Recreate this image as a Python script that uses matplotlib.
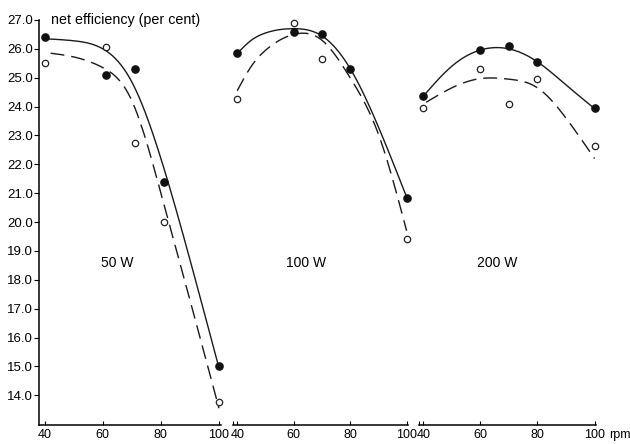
import numpy as np
import matplotlib.pyplot as plt

plt.rcParams['font.family'] = ['Liberation Sans', 'DejaVu Sans']

# efficiency at 50, 100 and 200 W: filled dots = solid curve, open dots = dashed curve
loads = ["50 W", "100 W", "200 W"]

rpm_filled = [[40, 61, 71, 81, 100],
              [40, 60, 70, 80, 100],
              [40, 60, 70, 80, 100]]
eff_filled = [[26.4, 25.1, 25.3, 21.4, 15.0],
              [25.85, 26.6, 26.5, 25.3, 20.85],
              [24.35, 25.95, 26.1, 25.55, 23.95]]

rpm_open = [[40, 61, 71, 81, 100],
            [40, 60, 70, 100],
            [40, 60, 70, 80, 100]]
eff_open = [[25.5, 26.05, 22.75, 20.0, 13.75],
            [24.25, 26.9, 25.65, 19.4],
            [23.95, 25.3, 24.1, 24.95, 22.65]]

# hand-drawn curves through the points (knots along each curve)
solid_rpm = [[40, 50, 60, 70, 80, 90, 100],
             [40, 45, 50, 60, 70, 80, 90, 100],
             [40, 50, 60, 70, 80, 90, 100]]
solid_eff = [[26.35, 26.28, 26.0, 24.85, 22.2, 18.7, 14.95],
             [25.84, 26.3, 26.55, 26.7, 26.45, 25.32, 23.3, 20.87],
             [24.36, 25.4, 25.96, 26.0, 25.55, 24.75, 23.93]]
dash_rpm = [[42, 50, 60, 70, 80, 90, 100],
            [40, 45, 50, 55, 60, 70, 80, 90, 100],
            [41, 50, 60, 70, 80, 90, 100]]
dash_eff = [[25.85, 25.72, 25.35, 24.2, 21.0, 17.3, 13.55],
            [24.55, 25.4, 25.95, 26.3, 26.5, 26.3, 25.0, 23.05, 19.7],
            [24.15, 24.65, 24.97, 24.95, 24.65, 23.6, 22.2]]

x_ticks = [40, 60, 80, 100]
y_ticks = [14, 15, 16, 17, 18, 19, 20, 21, 22, 23, 24, 25, 26, 27]

W, H = 630, 444
fig = plt.figure(figsize=(W / 100, H / 100), dpi=100)

# pixel extents of the three panels: (left, right, xmin, xmax)
panels = [(39, 221, 38.0, 100.7),
          (233, 408, 38.5, 100.5),
          (419, 596, 38.5, 100.5)]
label_pos = [(0.43, 0.40), (0.42, 0.40), (0.44, 0.40)]
y_top, y_bot = 20, 425


def smooth(xs, ys, n=300):
    # natural cubic spline through the knots
    x = np.asarray(xs, float)
    y = np.asarray(ys, float)
    k = len(x)
    h = np.diff(x)
    A = np.zeros((k, k))
    b = np.zeros(k)
    A[0, 0] = A[-1, -1] = 1
    for j in range(1, k - 1):
        A[j, j - 1] = h[j - 1]
        A[j, j] = 2 * (h[j - 1] + h[j])
        A[j, j + 1] = h[j]
        b[j] = 6 * ((y[j + 1] - y[j]) / h[j] - (y[j] - y[j - 1]) / h[j - 1])
    M = np.linalg.solve(A, b)
    xx = np.linspace(x[0], x[-1], n)
    idx = np.clip(np.searchsorted(x, xx) - 1, 0, k - 2)
    x0, x1, hj = x[idx], x[idx + 1], h[idx]
    a = (x1 - xx) / hj
    c = (xx - x0) / hj
    yy = (a * y[idx] + c * y[idx + 1]
          + ((a**3 - a) * M[idx] + (c**3 - c) * M[idx + 1]) * hj**2 / 6)
    return xx, yy


for i, (l, r, x0, x1) in enumerate(panels):
    ax = fig.add_axes([l / W, (H - y_bot) / H, (r - l) / W, (y_bot - y_top) / H])
    ax.set_xlim(x0, x1)
    ax.set_ylim(12.97, 27.0)
    ax.patch.set_alpha(0)
    for s in ['top', 'right']:
        ax.spines[s].set_visible(False)
    ax.spines['bottom'].set_linewidth(1.1)
    ax.spines['left'].set_linewidth(1.1)

    xs, ys = smooth(solid_rpm[i], solid_eff[i])
    ax.plot(xs, ys, color='#1a1a1a', lw=1.0, clip_on=False)
    xs, ys = smooth(dash_rpm[i], dash_eff[i])
    ax.plot(xs, ys, color='#1a1a1a', lw=1.0, dashes=(10, 5), clip_on=False)

    ax.plot(rpm_filled[i], eff_filled[i], 'o', color='#111111', ms=5.2,
            zorder=3, clip_on=False)
    ax.plot(rpm_open[i], eff_open[i], 'o', mfc='white', mec='#222222', mew=0.9,
            ms=4.6, zorder=3, clip_on=False)

    ax.set_xticks(x_ticks)
    ax.set_xticklabels([str(t) for t in x_ticks], fontsize=9)
    ax.tick_params(axis='x', direction='in', length=3, width=0.8, pad=3)

    if i == 0:
        ax.set_yticks(y_ticks)
        ax.set_yticklabels([f"{t:.1f}" for t in y_ticks], fontsize=9.5)
        ax.tick_params(axis='y', direction='out', length=3.5, width=0.8, pad=1)
        ax.text(42.0, 27.0, "net efficiency (per cent)", fontsize=10.3,
                ha='left', va='center')
    else:
        ax.spines['left'].set_visible(False)
        ax.set_yticks([])
        # small upturn at the start of the axis line
        ax.set_xticks([x0], minor=True)
        ax.tick_params(axis='x', which='minor', direction='in', length=3, width=0.8)

    ax.text(*label_pos[i], loads[i], transform=ax.transAxes, fontsize=10,
            ha='center', va='center')

fig.text(609 / W, (H - 435) / H, "rpm", fontsize=9, ha='left', va='center')

fig.savefig("out.png", dpi=100)
